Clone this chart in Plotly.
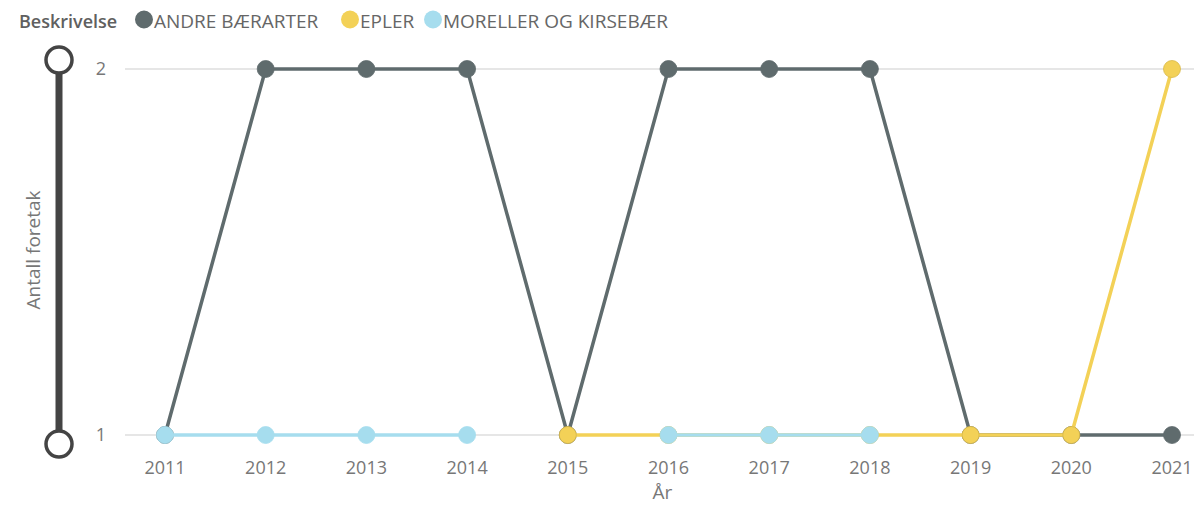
import plotly.graph_objects as go

years = [2011, 2012, 2013, 2014, 2015, 2016, 2017, 2018, 2019, 2020, 2021]
andre = [1, 2, 2, 2, 1, 2, 2, 2, 1, 1, 1]
epler = [None, None, None, None, 1, 1, 1, 1, 1, 1, 2]
moreller = [1, 1, 1, 1, None, 1, 1, 1, None, None, None]

series_names = ["ANDRE BÆRARTER", "EPLER", "MORELLER OG KIRSEBÆR"]
colors = ["#5F6B6D", "#F3D157", "#A6DDEE"]
marker_edges = ["#5F6B6D", "#D8B94A", "#A6DDEE"]
legend_title = "Beskrivelse"
y_ticks = [1, 2]

FONT = "Segoe UI, Open Sans, sans-serif"

# page has an 8px body margin; work in reference pixel coords and shift
OFF = 8
W, H = 1202 - OFF, 506 - OFF
L, R, T, B = 125 - OFF, 2, 45 - OFF, 51
pw, ph = W - L - R, H - T - B


def px2paper_x(px):
    return (px - OFF - L) / pw


def px2paper_y(py):
    return 1 - (py - OFF - T) / ph


fig = go.Figure()
for name, vals, col, edge in zip(series_names, [andre, epler, moreller], colors, marker_edges):
    fig.add_trace(go.Scatter(
        x=years, y=vals, name=name, mode="lines+markers",
        line=dict(color=col, width=3.5),
        marker=dict(color=col, size=17, line=dict(width=0.8, color=edge)),
        connectgaps=False, showlegend=False,
    ))

LEG_Y = 21.5
shapes = []
annotations = [dict(text=legend_title, x=px2paper_x(17), y=px2paper_y(LEG_Y),
                    xref="paper", yref="paper", xanchor="left", yanchor="middle",
                    showarrow=False, font=dict(size=18, color="#606060", family=FONT, weight=600))]
leg_x = [144, 350, 433]
for cx, name, col in zip(leg_x, series_names, colors):
    shapes.append(dict(type="circle", xref="paper", yref="paper", xsizemode="pixel", ysizemode="pixel",
                       xanchor=px2paper_x(cx), yanchor=px2paper_y(19.5), x0=-9, x1=9, y0=-9, y1=9,
                       fillcolor=col, line=dict(width=0)))
    annotations.append(dict(text=name, x=px2paper_x(cx + 8), y=px2paper_y(LEG_Y), xref="paper", yref="paper",
                            xanchor="left", yanchor="middle", showarrow=False,
                            font=dict(size=19, color="#666666", family=FONT)))

# Slider decoration on the left
sx = px2paper_x(59)
shapes.append(dict(type="rect", xref="paper", yref="paper", xsizemode="pixel", ysizemode="pixel",
                   xanchor=sx, yanchor=px2paper_y(252), x0=-3.5, x1=3.5, y0=-192, y1=192,
                   fillcolor="#444444", line=dict(width=0), layer="above"))
for cy in (60, 444):
    shapes.append(dict(type="circle", xref="paper", yref="paper", xsizemode="pixel", ysizemode="pixel",
                       xanchor=sx, yanchor=px2paper_y(cy), x0=-13, x1=13, y0=-13, y1=13,
                       fillcolor="white", line=dict(color="#444444", width=3.5), layer="above"))

fig.update_layout(
    width=W, height=H,
    margin=dict(l=L, r=R, t=T, b=B),
    plot_bgcolor="white", paper_bgcolor="white",
    font=dict(family=FONT, color="#777777"),
    shapes=shapes, annotations=annotations,
    xaxis=dict(range=[2010.603, 2021.278], tickvals=years, ticktext=[str(y) for y in years],
               showgrid=False, zeroline=False, showline=False, ticks="",
               tickfont=dict(size=18, color="#777777", family=FONT),
               title=dict(text="År", font=dict(size=19, color="#777777", family=FONT), standoff=5)),
    yaxis=dict(range=[0.9454, 2.0656], tickvals=y_ticks, ticktext=[str(v) for v in y_ticks],
               showgrid=True, gridcolor="#E6E6E6", gridwidth=1.5, zeroline=False, showline=False,
               ticks="", ticklabelstandoff=18,
               tickfont=dict(size=18, color="#777777", family=FONT),
               title=dict(text="Antall foretak", font=dict(size=19, color="#777777", family=FONT), standoff=50)),
)

fig.write_html("out.html")
